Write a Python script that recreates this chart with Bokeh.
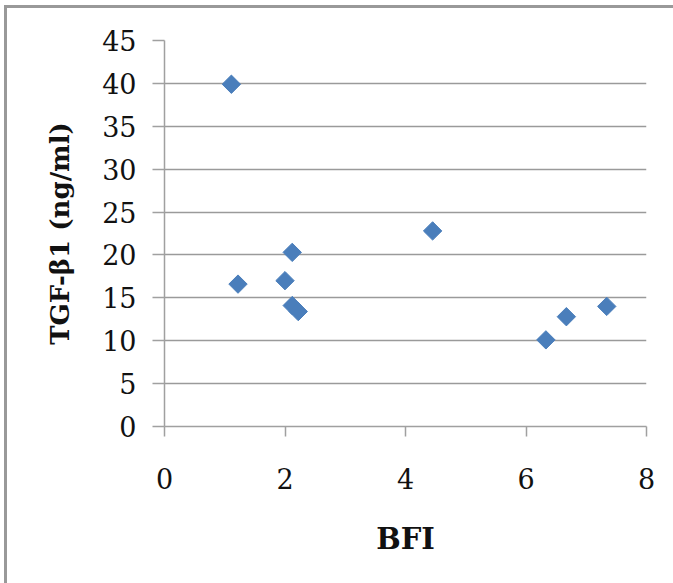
import math
from bokeh.plotting import figure
from bokeh.models import Range1d, FixedTicker
from bokeh.embed import file_html
from bokeh.resources import INLINE

# Data
bfi = [1.11, 1.22, 2.00, 2.12, 2.12, 2.22, 4.45, 6.33, 6.67, 7.34]
tgf = [39.9, 16.6, 17.0, 20.3, 14.1, 13.4, 22.8, 10.1, 12.8, 14.0]
x_ticks = [0, 2, 4, 6, 8]
y_ticks = [0, 5, 10, 15, 20, 25, 30, 35, 40, 45]

p = figure(width=673, height=583, output_backend="svg", toolbar_location=None,
           x_range=Range1d(0, 8), y_range=Range1d(0, 45),
           min_border_left=164, min_border_right=27, min_border_top=40, min_border_bottom=157)
p.outline_line_color = None
p.background_fill_color = "white"
p.border_fill_alpha = 0
p.styles = {"background": "linear-gradient(#999999, #999999) 4px 5px / 3px 100% no-repeat, "
                          "linear-gradient(#999999, #999999) 4px 5px / 100% 3px no-repeat, white"}

p.scatter(bfi, tgf, marker="square", angle=math.pi / 4, size=13,
          fill_color="#4A7EBB", line_color="#4A7EBB")

p.xgrid.visible = False
p.ygrid.grid_line_color = "#9a9a9a"
p.ygrid.grid_line_width = 1.6
p.ygrid.ticker = FixedTicker(ticks=y_ticks)

for ax in (p.xaxis[0], p.yaxis[0]):
    ax.axis_line_color = "#a0a0a0"
    ax.axis_line_width = 1.5
    ax.major_tick_line_color = "#a0a0a0"
    ax.major_tick_line_width = 1.5
    ax.minor_tick_line_color = None
    ax.major_tick_in = 0
    ax.major_label_text_font = "DejaVu Serif"
    ax.major_label_text_font_size = "27px"
    ax.major_label_text_color = "#111111"
    ax.axis_label_text_font = "DejaVu Serif"
    ax.axis_label_text_font_style = "bold"
    ax.axis_label_text_color = "#111111"

p.xaxis.ticker = FixedTicker(ticks=x_ticks)
p.yaxis.ticker = FixedTicker(ticks=y_ticks)
p.xaxis.major_tick_out = 10
p.yaxis.major_tick_out = 12
p.xaxis.major_label_standoff = 31
p.yaxis.major_label_standoff = 16
p.xaxis.axis_label = "BFI"
p.yaxis.axis_label = "TGF-β1 (ng/ml)"
p.xaxis.axis_label_text_font_size = "29px"
p.yaxis.axis_label_text_font_size = "26px"
p.xaxis.axis_label_standoff = 30
p.yaxis.axis_label_standoff = 24

open("out.html", "w").write(file_html(p, INLINE))
